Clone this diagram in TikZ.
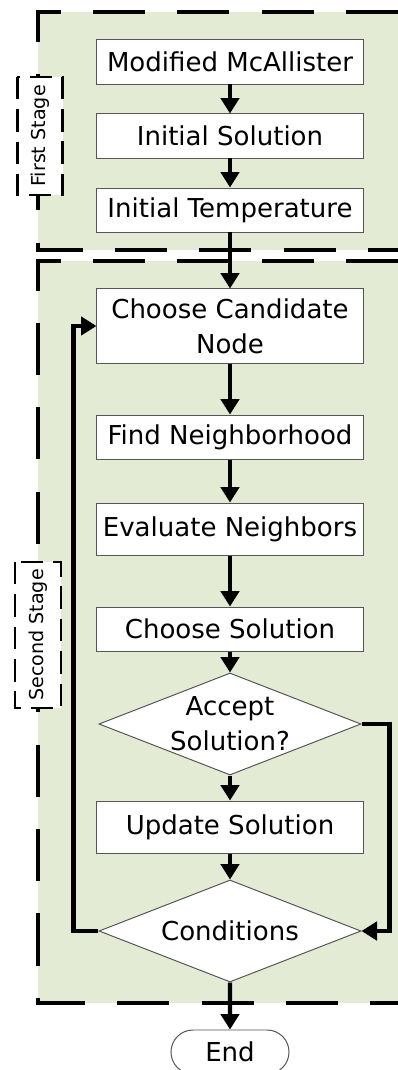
\documentclass[tikz,border=0pt]{standalone}
\usepackage{fontspec}
\setmainfont{DejaVu Sans}
\usetikzlibrary{arrows.meta,shapes.geometric,shapes.misc}
\definecolor{stagegreen}{HTML}{E3EBD4}
\definecolor{boxgray}{HTML}{555555}
\tikzset{
    stepbox/.style={draw=boxgray, fill=white, line width=0.7pt, minimum width=6.65cm, minimum height=1.1cm,
        inner sep=0pt, align=center, font=\fontsize{18.5}{25}\selectfont},
    decision/.style={draw=boxgray, fill=white, line width=0.7pt, shape=diamond, aspect=2.57,
        minimum width=6.55cm, minimum height=2.55cm, inner sep=0pt},
    decisiontext/.style={align=center, font=\fontsize{18.5}{25}\selectfont},
    flow/.style={line width=3pt, -{Triangle[length=11pt,width=13pt]}},
    stageborder/.style={line width=2.8pt, dash pattern=on 37pt off 23pt},
    stagelabel/.style={draw, fill=white, line width=1.8pt, dash pattern=on 16pt off 7pt, rotate=90,
        inner sep=0pt, font=\fontsize{13.6}{16}\selectfont}
}
\begin{document}
\begin{tikzpicture}[x=0.025cm,y=-0.025cm]
        \useasboundingbox (0,0) rectangle (398,1070);
        % stages
        \fill[stagegreen] (38,12) rectangle (398,250);
        \fill[stagegreen] (38,261) rectangle (398,1003);
        \draw[stageborder] (398,12) -- (38,12) -- (38,250) -- (398,250);
        \draw[stageborder] (398,261) -- (38,261) -- (38,1003) -- (398,1003);
        \node[stagelabel, minimum width=2.95cm, minimum height=1.125cm] (firststage) at (40,136) {First Stage};
        \node[stagelabel, minimum width=3.65cm, minimum height=1.15cm] (secondstage) at (38,635) {Second Stage};
        % steps
        \node[stepbox] (mcallister) at (230,62) {Modified McAllister};
        \node[stepbox] (initsol) at (230,136) {Initial Solution};
        \node[stepbox] (inittemp) at (230,210) {Initial Temperature};
        \node[stepbox, minimum height=1.85cm] (candidate) at (230,326) {Choose Candidate\\Node};
        \node[stepbox] (neighborhood) at (230,437) {Find Neighborhood};
        \node[stepbox, minimum height=1.3cm] (evaluate) at (230,529) {Evaluate Neighbors};
        \node[stepbox] (choosesol) at (230,629) {Choose Solution};
        \node[decision] (accept) at (230,724) {};
        \node[decisiontext] (accepttext) at (accept) {Accept\\Solution?};
        \node[stepbox, minimum height=1.3cm] (update) at (230,827) {Update Solution};
        \node[decision] (conditions) at (230,931) {};
        \node[decisiontext] (conditionstext) at (conditions) {Conditions};
        \node[stepbox, rounded rectangle, minimum width=2.95cm] (finish) at (230,1052) {End};
        % connectors
        \draw[flow] (mcallister) -- (initsol);
        \draw[flow] (initsol) -- (inittemp);
        \draw[flow] (inittemp) -- (candidate);
        \draw[flow] (candidate) -- (neighborhood);
        \draw[flow] (neighborhood) -- (evaluate);
        \draw[flow] (evaluate) -- (choosesol);
        \draw[flow] (choosesol) -- (accept);
        \draw[flow] (accept) -- (update);
        \draw[flow] (update) -- (conditions);
        \draw[flow] (conditions) -- (finish);
        \draw[flow] (conditions.west) -- ++(-25,0) |- (candidate.west);
        \draw[flow] (accept.east) -- ++(28,0) |- (conditions.east);
    \end{tikzpicture}
\end{document}
